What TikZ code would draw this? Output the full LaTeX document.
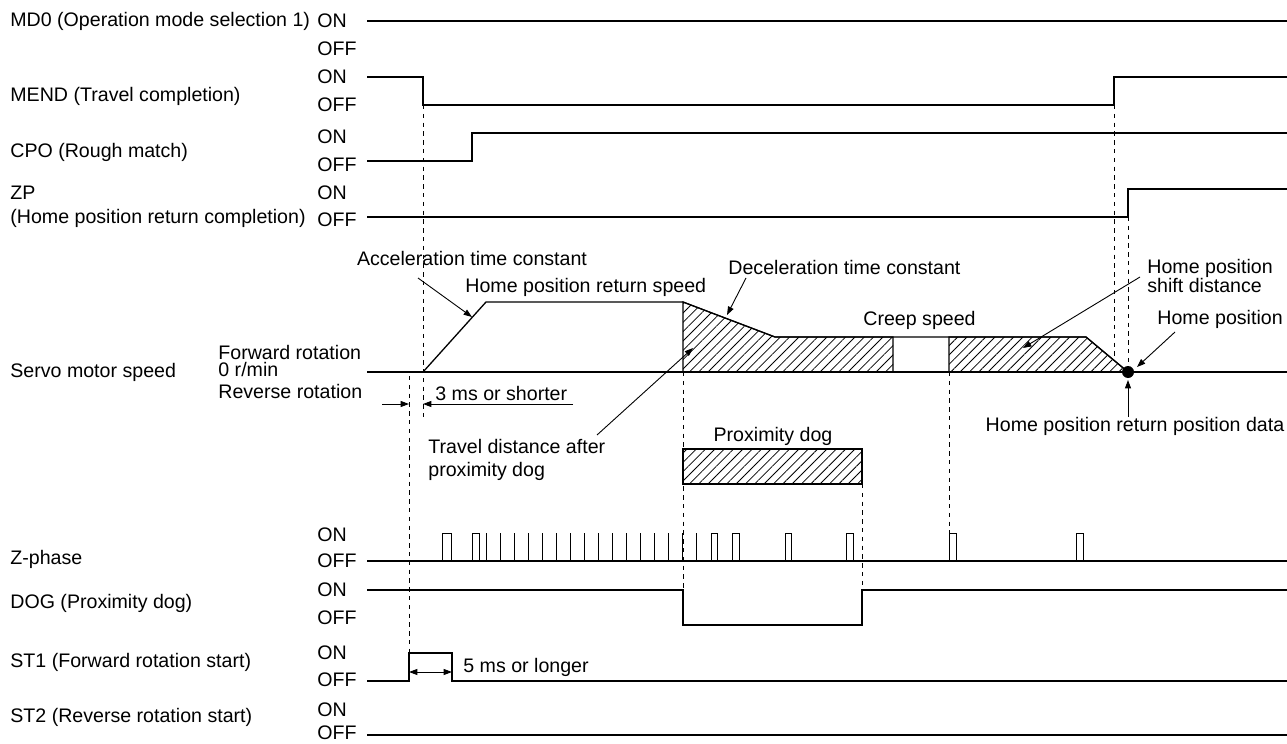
\documentclass[tikz,border=0pt]{standalone}
\usepackage{fontspec}
\setmainfont{Liberation Sans}
\usetikzlibrary{arrows.meta,patterns.meta}
\tikzset{
  timingfig/.style={x=0.5pt,y=-0.5pt,>={Triangle[length=4.2pt,width=3pt]},
    every node/.style={font=\fontsize{9.8}{11.5}\selectfont,inner sep=0pt}},
  siglabel/.style={anchor=west},
  onoff/.style={anchor=west},
  note/.style={align=left},
  sigline/.style={line width=0.65pt},
  pulse/.style={line width=0.5pt},
  guide/.style={line width=0.5pt,dash pattern=on 2.2pt off 2.2pt},
  hatch/.style={draw,line width=0.55pt,
    pattern={Lines[angle=45,distance=3.3pt,line width=0.4pt]}},
  pointer/.style={->,line width=0.45pt},
}

\begin{document}
\begin{tikzpicture}[timingfig]
    \useasboundingbox (0,0) rectangle (1287,744);

    % signal names
    \node[siglabel] (md0) at (10,21) {MD0 (Operation mode selection 1)};
    \node[siglabel] (mend) at (10,96) {MEND (Travel completion)};
    \node[siglabel] (cpo) at (10,152) {CPO (Rough match)};
    \node[siglabel] (zp) at (10,193) {ZP};
    \node[siglabel] (zpname) at (10,218) {(Home position return completion)};
    \node[siglabel] (speed) at (10,372) {Servo motor speed};
    \node[siglabel] (zphase) at (10,559) {Z-phase};
    \node[siglabel] (dog) at (10,603) {DOG (Proximity dog)};
    \node[siglabel] (st1) at (10,662) {ST1 (Forward rotation start)};
    \node[siglabel] (st2) at (10,717) {ST2 (Reverse rotation start)};

    \foreach \y/\t in {21/ON,49/OFF,77/ON,105/OFF,137/ON,165/OFF,193/ON,220/OFF,
        535/ON,561/OFF,590/ON,618/OFF,653/ON,680/OFF,710/ON,733/OFF}
      \node[onoff] (lv\y) at (317,\y) {\t};

    \node[siglabel] (fwd) at (218,352) {Forward rotation};
    \node[siglabel] (zero) at (218,369) {0 r/min};
    \node[siglabel] (rev) at (218,391) {Reverse rotation};

    % waveforms
    \draw[sigline] (367,21) -- (1287,21);
    \draw[sigline] (367,77) -- (423,77) -- (423,105) -- (1114,105) -- (1114,77) -- (1287,77);
    \draw[sigline] (367,161) -- (472,161) -- (472,133) -- (1287,133);
    \draw[sigline] (367,217) -- (1128,217) -- (1128,189) -- (1287,189);

    \draw[hatch] (683,372) -- (683,302) -- (775,337) -- (893,337) -- (893,372) -- cycle;
    \draw[hatch] (949,372) -- (949,337) -- (1086,337) -- (1128,372) -- cycle;
    \draw[sigline] (367,372) -- (1287,372);
    \draw[sigline] (423,372) -- (486,302) -- (683,302) -- (775,337) -- (1086,337) -- (1128,372);
    \fill (1128,372) circle (3pt);

    \draw[hatch] (683,449) rectangle (862,484);
    \node (dogname) at (773,436) {Proximity dog};

    \draw[sigline] (367,561) -- (1287,561);
    \foreach \a/\b in {442/451,472/479,711/717,732/739,785/791,846/853,949/956,1076/1083}
      \draw[pulse] (\a,561) -- (\a,533) -- (\b,533) -- (\b,561);
    \foreach \x in {486,500,...,696}
      \draw[pulse] (\x,561) -- (\x,533);

    \draw[sigline] (367,590) -- (683,590) -- (683,625) -- (862,625) -- (862,590) -- (1287,590);
    \draw[sigline] (367,681) -- (409,681) -- (409,653) -- (452,653) -- (452,681) -- (1287,681);
    \draw[sigline] (367,735) -- (1287,735);

    % timing guides
    \draw[guide] (423,105) -- (423,420);
    \draw[guide] (409,376) -- (409,653);
    \draw[guide] (683,372) -- (683,590);
    \draw[guide] (862,484) -- (862,590);
    \draw[guide] (949,372) -- (949,533);
    \draw[guide] (1114,105) -- (1114,358);
    \draw[guide] (1128,217) -- (1128,366);

    % annotations
    \node (acctc) at (472,258) {Acceleration time constant};
    \node[anchor=west] (hprs) at (465,287) {Home position return speed};
    \node[anchor=west] (dectc) at (728,267) {Deceleration time constant};
    \node[anchor=west] (creep) at (863,320) {Creep speed};
    \node[note,anchor=west] (shift) at (1147,276) {Home position\\[-2.2pt]shift distance};
    \node[anchor=west] (home) at (1157,319) {Home position};
    \node (hprpd) at (1135,426) {Home position return position data};
    \node[note,anchor=west] (travel) at (428,460) {Travel distance after\\proximity dog};
    \node[anchor=west] (short) at (435,393) {3 ms or shorter};
    \node[anchor=west] (long) at (463,667) {5 ms or longer};

    \coordinate (acctail) at (418,278);
    \coordinate (acctip) at (472,317);
    \coordinate (dectail) at (746,278);
    \coordinate (dectip) at (727,315);
    \coordinate (traveltail) at (597,435);
    \coordinate (traveltip) at (693,348);
    \coordinate (shifttail) at (1140,277);
    \coordinate (shifttip) at (1023,348);
    \coordinate (hometail) at (1175,332);
    \coordinate (hometip) at (1137,367);
    \coordinate (datatail) at (1128,417);
    \coordinate (datatip) at (1128,380);
    \draw[pointer] (acctail) -- (acctip);
    \draw[pointer] (dectail) -- (dectip);
    \draw[pointer] (traveltail) -- (traveltip);
    \draw[pointer] (shifttail) -- (shifttip);
    \draw[pointer] (hometail) -- (hometip);
    \draw[pointer] (datatail) -- (datatip);

    \coordinate (shortl) at (382,404);
    \coordinate (shorta) at (409,404);
    \coordinate (shortb) at (423,404);
    \coordinate (shortr) at (573,404);
    \draw[pointer] (shortl) -- (shorta);
    \draw[pointer] (shortr) -- (shortb);
    \coordinate (longa) at (409,672);
    \coordinate (longb) at (452,672);
    \draw[pointer,<->] (longa) -- (longb);
\end{tikzpicture}
\end{document}
